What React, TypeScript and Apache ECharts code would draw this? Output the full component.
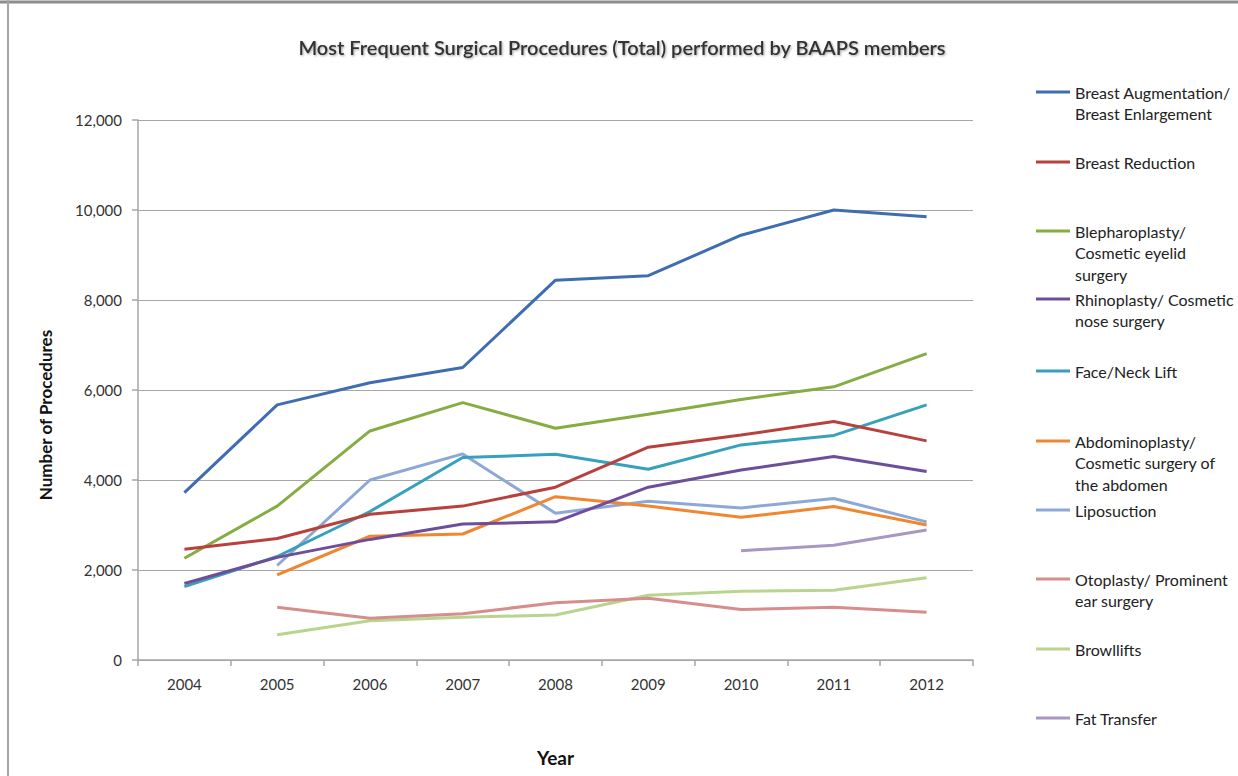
import React, { useEffect, useRef } from "react";
import * as echarts from "echarts";

const years = ["2004", "2005", "2006", "2007", "2008", "2009", "2010", "2011", "2012"];

const seriesNames = [
  "Breast Augmentation/ Breast Enlargement",
  "Breast Reduction",
  "Blepharoplasty/ Cosmetic eyelid surgery",
  "Rhinoplasty/ Cosmetic nose surgery",
  "Face/Neck Lift",
  "Abdominoplasty/ Cosmetic surgery of the abdomen",
  "Liposuction",
  "Otoplasty/ Prominent ear surgery",
  "Browllifts",
  "Fat Transfer",
];

const legendLines = [
  ["Breast Augmentation/", "Breast Enlargement"],
  ["Breast Reduction"],
  ["Blepharoplasty/", "Cosmetic eyelid", "surgery"],
  ["Rhinoplasty/ Cosmetic", "nose surgery"],
  ["Face/Neck Lift"],
  ["Abdominoplasty/", "Cosmetic surgery of", "the abdomen"],
  ["Liposuction"],
  ["Otoplasty/ Prominent", "ear surgery"],
  ["Browllifts"],
  ["Fat Transfer"],
];

const breastAugmentation = [3720, 5670, 6160, 6500, 8440, 8540, 9440, 10000, 9850];
const breastReduction = [2460, 2700, 3240, 3420, 3840, 4730, 5000, 5300, 4870];
const blepharoplasty = [2260, 3420, 5090, 5720, 5150, 5460, 5790, 6070, 6810];
const rhinoplasty = [1700, 2280, 2680, 3020, 3070, 3840, 4220, 4520, 4190];
const faceNeckLift = [1630, 2300, 3300, 4500, 4570, 4240, 4780, 4990, 5670];
const abdominoplasty = [null, 1890, 2750, 2800, 3630, 3420, 3170, 3410, 3000];
const liposuction = [null, 2100, 4000, 4580, 3260, 3530, 3380, 3590, 3070];
const otoplasty = [null, 1170, 930, 1030, 1270, 1370, 1120, 1170, 1060];
const browlifts = [null, 560, 870, 950, 1000, 1440, 1530, 1550, 1830];
const fatTransfer = [null, null, null, null, null, null, 2430, 2550, 2890];

const allData = [
  breastAugmentation,
  breastReduction,
  blepharoplasty,
  rhinoplasty,
  faceNeckLift,
  abdominoplasty,
  liposuction,
  otoplasty,
  browlifts,
  fatTransfer,
];

const colors = [
  "#3F6DB1",
  "#B8413E",
  "#86AC42",
  "#6E4E9A",
  "#37A0BC",
  "#F08630",
  "#8EA8D6",
  "#D68E8C",
  "#B9D48F",
  "#A897C3",
];

const yTicks = [0, 2000, 4000, 6000, 8000, 10000, 12000];

const FONT = "Lato, 'Open Sans', sans-serif";

export default function App() {
  const ref = useRef<HTMLDivElement>(null);

  useEffect(() => {
    if (!ref.current) return;
    const chart = echarts.init(ref.current, null, { renderer: "svg" });

    const legendIconY = [93, 163, 232, 300, 372, 442, 511, 580, 650, 719];
    const lh = 21.5;
    const legendFont = 16;

    const legends = seriesNames.map((name, i) => ({
      show: true,
      data: [name],
      left: 1036,
      top: legendIconY[i] - lh / 2 - 1,
      padding: 0,
      icon: "rect",
      itemWidth: 34,
      itemHeight: 3,
      itemGap: 5,
      selectedMode: false,
      formatter: () => legendLines[i][0],
      textStyle: {
        fontFamily: FONT,
        fontSize: legendFont,
        color: "#222",
        lineHeight: lh,
      },
    }));

    const legendExtra: any[] = [];
    legendLines.forEach((lines, i) => {
      lines.slice(1).forEach((t, k) => {
        legendExtra.push({
          type: "text",
          x: 1075,
          y: legendIconY[i] - 1 + (k + 1) * lh,
          silent: true,
          style: {
            text: t,
            fontFamily: FONT,
            fontSize: legendFont,
            fill: "#222",
            align: "left",
            verticalAlign: "middle",
          },
        });
      });
    });

    const option: any = {
      animation: false,
      backgroundColor: "#ffffff",
      title: {
        text: "Most Frequent Surgical Procedures (Total) performed by BAAPS members",
        left: 617,
        textAlign: "center",
        top: 32,
        textStyle: {
          fontFamily: FONT,
          fontSize: 20,
          fontWeight: 600,
          color: "#333333",
          textShadowColor: "rgba(0,0,0,0.35)",
          textShadowBlur: 2,
          textShadowOffsetX: 1,
          textShadowOffsetY: 1,
        },
      },
      legend: legends,
      grid: {
        left: 138,
        right: 265,
        top: 120,
        bottom: 116,
        containLabel: false,
      },
      xAxis: {
        type: "category",
        data: years,
        boundaryGap: true,
        name: "Year",
        nameLocation: "middle",
        nameGap: 88,
        nameTextStyle: {
          fontFamily: FONT,
          fontSize: 19,
          fontWeight: "bold",
          color: "#111",
        },
        axisLine: { show: true, lineStyle: { color: "#A6A6A6", width: 1.5 } },
        axisTick: { show: true, interval: 0, length: 6, lineStyle: { color: "#A6A6A6", width: 1.5 } },
        axisLabel: {
          fontFamily: FONT,
          fontSize: 15,
          color: "#333",
          margin: 16,
          interval: 0,
        },
        splitLine: { show: false },
      },
      yAxis: {
        type: "value",
        min: 0,
        max: 12000,
        interval: 2000,
        axisLine: { show: true, lineStyle: { color: "#A6A6A6", width: 1.5 } },
        axisTick: { show: true, length: 6, lineStyle: { color: "#A6A6A6", width: 1.5 } },
        axisLabel: {
          fontFamily: FONT,
          fontSize: 15,
          color: "#333",
          margin: 16,
          formatter: (v: number) => (yTicks.includes(v) ? v.toLocaleString("en-US") : ""),
        },
        splitLine: { show: true, lineStyle: { color: "#A6A6A6", width: 1.2 } },
      },
      series: seriesNames.map((name, i) => ({
        name,
        type: "line",
        data: allData[i],
        symbol: "none",
        connectNulls: false,
        color: colors[i],
        lineStyle: { color: colors[i], width: 3 },
        z: 10 - i,
      })),
      graphic: [
        {
          type: "line",
          shape: { x1: 0, y1: 2, x2: 1238, y2: 2 },
          style: { stroke: "#8C8C8C", lineWidth: 3 },
          silent: true,
        },
        {
          type: "line",
          shape: { x1: 8, y1: 0, x2: 8, y2: 776 },
          style: { stroke: "#A6A6A6", lineWidth: 2 },
          silent: true,
        },
        {
          type: "text",
          x: 45,
          y: 415,
          rotation: Math.PI / 2,
          silent: true,
          style: {
            text: "Number of Procedures",
            fontFamily: FONT,
            fontSize: 17,
            fontWeight: "bold",
            fill: "#111",
            align: "center",
            verticalAlign: "middle",
          },
        },
        ...legendExtra,
      ],
    };

    chart.setOption(option);
    return () => chart.dispose();
  }, []);

  return (
    <div
      ref={ref}
      style={{ position: "fixed", left: 0, top: 0, width: 1238, height: 776, background: "#fff" }}
    />
  );
}
